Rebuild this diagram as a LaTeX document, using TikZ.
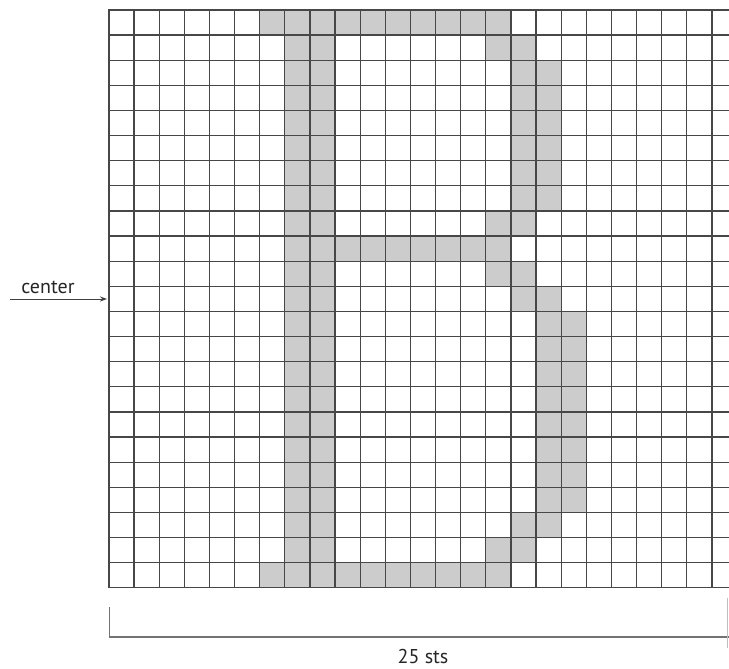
\documentclass[tikz,border=0pt]{standalone}
\usepackage{fontspec}
\setmainfont{PT Sans}
\usetikzlibrary{arrows.meta}
\newcommand{\kcell}[2]{\fill[cellfill] ({109+#1*25.12},{10+#2*25.12}) rectangle ++(25.12,25.12);}
\begin{document}
\begin{tikzpicture}[x=1pt,y=-1pt,
  cellfill/.style={fill=black!20},
  gridline/.style={draw=black!72,line width=1.3pt},
  lbl/.style={font=\fontsize{20}{23}\selectfont, inner sep=0pt, text=black!85},
  bracketline/.style={draw=black!55,line width=1.4pt}]
\useasboundingbox (0,0) rectangle (729,669);
\fill[white] (0,0) rectangle (729,669);
\begin{scope}
\clip (0,0) rectangle (729,669);
% letter B cells
\foreach \c in {6,...,15} {\kcell{\c}{0}\kcell{\c}{22}}
\foreach \c in {9,...,15} {\kcell{\c}{9}}
\foreach \r in {1,...,21} {\kcell{7}{\r}\kcell{8}{\r}}
\foreach \r in {2,...,7} {\kcell{16}{\r}\kcell{17}{\r}}
\foreach \r in {12,...,19} {\kcell{17}{\r}\kcell{18}{\r}}
\foreach \c/\r in {15/1,16/1,15/8,16/8,15/10,16/10,16/11,17/11,16/20,17/20,15/21,16/21} {\kcell{\c}{\r}}
% grid
\foreach \i in {0,...,25} \draw[gridline] ({109+\i*25.12},10) -- ({109+\i*25.12},587.8);
\foreach \j in {0,...,23} \draw[gridline] (108.35,{10+\j*25.12}) -- (737.7,{10+\j*25.12});
% bracket
\coordinate (bltop) at (109.5,607);
\coordinate (blcorner) at (109.5,637);
\coordinate (brcorner) at (731,637);
\draw[bracketline] (bltop) -- (blcorner) -- (brcorner);
\coordinate (brtop) at (727.5,598);
\coordinate (brbot) at (727.5,648);
\draw[draw=black!25,line width=0.8pt] (brtop) -- (brbot);
\end{scope}
% center arrow
\coordinate (arrowtail) at (10,299);
\coordinate (gridedge) at (107,299);
\draw[-{Stealth[length=7pt,width=5pt]}, line width=1pt, draw=black!75, fill=black!75] (arrowtail) -- (gridedge);
\node[lbl, anchor=base] (centerlabel) at (48,293) {center};
\node[lbl, anchor=base] (widthlabel) at (423,663) {25 sts};
\end{tikzpicture}
\end{document}
